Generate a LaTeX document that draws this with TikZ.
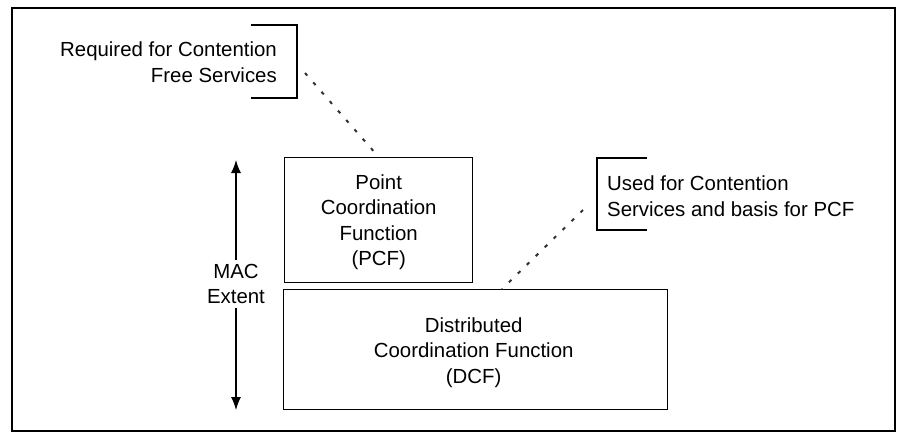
\documentclass[tikz,border=0pt]{standalone}
\usepackage{fontspec}
\setmainfont{Liberation Sans}
\usetikzlibrary{arrows.meta}
\begin{document}
\begin{tikzpicture}[x=1pt,y=-1pt,
  txt/.style={font=\fontsize{20.4}{25.5}\selectfont, inner sep=0pt},
  box/.style={draw, line width=1.4pt},
  brk/.style={draw, line width=1.4pt},
  dots/.style={line width=2pt, dash pattern=on 3.5pt off 9pt, black!80},
  ext/.style={line width=1.1pt, -{Latex[length=13pt,width=10pt]}}]
\useasboundingbox (0,0) rectangle (898,434);
\draw[line width=2.6pt] (12,8) rectangle (895,431);
% PCF box
\node[box, minimum width=188pt, minimum height=125pt, anchor=north west] (pcf) at (284,157) {};
\node[txt, align=center] (pcft) at ([yshift=-2pt]pcf.center) {Point\\Coordination\\Function\\(PCF)};
% DCF box
\node[box, minimum width=384pt, minimum height=120pt, anchor=north west] (dcf) at (283,289) {};
\node[txt, align=center] (dcft) at ([xshift=-2pt,yshift=-3pt]dcf.center) {Distributed\\Coordination Function\\(DCF)};
% MAC extent
\node[txt, align=center] (mac) at (236,284) {MAC\\Extent};
\coordinate (top) at (236,160);
\coordinate (bot) at (236,410);
\draw[ext] (mac.north) ++(0,-4) -- (top);
\draw[ext] (mac.south) ++(0,4) -- (bot);
% top-left annotation
\node[txt, align=right, anchor=east] (req) at (277,62) {Required for Contention\\Free Services};
\draw[brk] (251,25) -- (297,25) -- (297,98) -- (251,98);
\coordinate (reqend) at (305,73);
\draw[dots] (reqend) -- (pcf.north);
% right annotation
\node[txt, align=left, anchor=west] (used) at (607,196) {Used for Contention\\Services and basis for PCF};
\draw[brk] (647,158) -- (597,158) -- (597,230) -- (647,230);
\coordinate (usedend) at (583,210);
\coordinate (dcftop) at (502,289);
\draw[dots] (usedend) -- (dcftop);
\end{tikzpicture}
\end{document}
